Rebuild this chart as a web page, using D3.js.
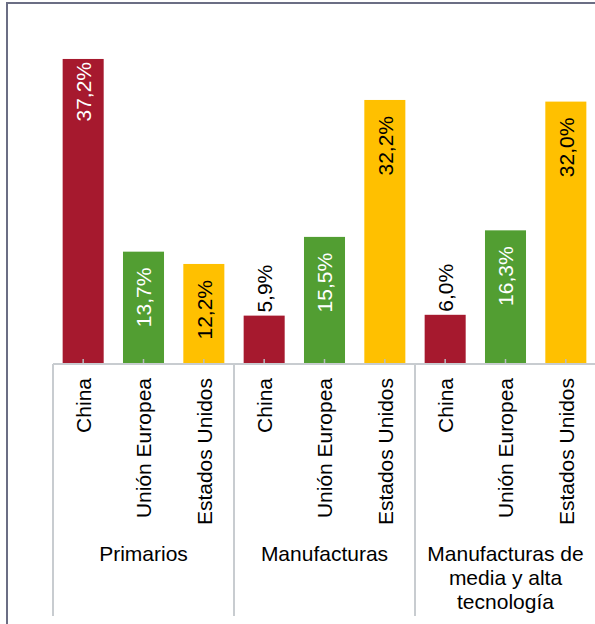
<!DOCTYPE html>
<html>
<head>
<meta charset="utf-8">
<script src="https://cdn.jsdelivr.net/npm/d3@7"></script>
<style>
  body { margin: 0; background: #fff; }
  text { font-family: "Liberation Sans", Arial, sans-serif; }
</style>
</head>
<body>
<div id="chart"></div>
<script>
// data
var groups = ["Primarios", "Manufacturas", "Manufacturas de media y alta tecnología"];
var groupLines = [["Primarios"], ["Manufacturas"], ["Manufacturas de", "media y alta", "tecnología"]];
var countries = ["China", "Unión Europea", "Estados Unidos"];
var china = [37.2, 5.9, 6.0];
var ue = [13.7, 15.5, 16.3];
var eeuu = [12.2, 32.2, 32.0];

var colors = ["#a6192e", "#529e32", "#ffc000"];
var labelColors = ["#fff", "#fff", "#000"];

var svgWidth = 595;
var svgHeight = 624;
var base = 364;

var svg = d3.select("#chart")
  .append("svg")
  .attr("width", svgWidth)
  .attr("height", svgHeight);

// outer frame
svg.append("rect")
  .attr("x", 7).attr("y", 3)
  .attr("width", 800).attr("height", 800)
  .attr("fill", "none")
  .attr("stroke", "#6b6e84")
  .attr("stroke-width", 2);

var rows = groups.map(function(g, i) {
  return { group: g, values: [china[i], ue[i], eeuu[i]] };
});

var x0 = d3.scaleBand().domain(groups).range([53, 596]);
var x1 = d3.scaleBand().domain(countries).range([0, x0.bandwidth()])
  .paddingInner(0.32).paddingOuter(0.16);
var y = d3.scaleLinear().domain([0, 40]).range([base, 36]);

var fmt = d3.formatLocale({ decimal: ",", thousands: ".", grouping: [3], currency: ["", "€"] }).format(".1f");
var maxVal = d3.max([].concat(china, ue, eeuu));

var groupG = svg.selectAll(".grp")
  .data(rows)
  .enter()
  .append("g")
  .attr("class", "grp")
  .attr("transform", function(d) { return "translate(" + x0(d.group) + ",0)"; });

// bars
groupG.selectAll("rect")
  .data(function(d) { return d.values.map(function(v, i) { return { country: countries[i], value: v, i: i }; }); })
  .enter()
  .append("rect")
  .attr("x", function(d) { return x1(d.country); })
  .attr("y", function(d) { return y(d.value); })
  .attr("width", x1.bandwidth())
  .attr("height", function(d) { return base - y(d.value); })
  .attr("fill", function(d) { return colors[d.i]; });

// axis line
svg.append("line")
  .attr("x1", 53).attr("x2", svgWidth)
  .attr("y1", base).attr("y2", base)
  .attr("stroke", "#c8ccd0")
  .attr("stroke-width", 2);

// country axis per group
groupG.each(function() {
  var ax = d3.select(this).append("g")
    .attr("transform", "translate(0," + base + ")")
    .call(d3.axisBottom(x1).tickSizeInner(-5).tickSizeOuter(0));
  ax.select(".domain").remove();
  ax.selectAll(".tick line").attr("stroke", "#b9bcc0").attr("stroke-width", 1.5);
  ax.selectAll(".tick text")
    .attr("transform", "rotate(-90)")
    .attr("x", -14)
    .attr("y", 0)
    .attr("dy", "0.38em")
    .attr("text-anchor", "end")
    .attr("fill", "#000")
    .style("font-size", "21px")
    .style("font-family", "'Liberation Sans', Arial, sans-serif");
});

// value labels
groupG.selectAll(".val")
  .data(function(d) { return d.values.map(function(v, i) { return { country: countries[i], value: v, i: i }; }); })
  .enter()
  .append("text")
  .attr("class", "val")
  .attr("transform", function(d) {
    return "translate(" + (x1(d.country) + x1.bandwidth() / 2) + "," + y(d.value) + ") rotate(-90)";
  })
  .attr("x", function(d) {
    if (d.value < 10) return 3;
    return d.value === maxVal ? -3 : -16;
  })
  .attr("dy", "0.38em")
  .attr("text-anchor", function(d) { return d.value < 10 ? "start" : "end"; })
  .attr("fill", function(d) { return d.value < 10 ? "#000" : labelColors[d.i]; })
  .style("font-size", "21px")
  .text(function(d) { return fmt(d.value) + "%"; });

// group separators
svg.selectAll(".sep")
  .data(groups)
  .enter()
  .append("line")
  .attr("class", "sep")
  .attr("x1", function(d) { return x0(d); })
  .attr("x2", function(d) { return x0(d); })
  .attr("y1", base).attr("y2", 616)
  .attr("stroke", "#c8ccd0")
  .attr("stroke-width", 2);

// group labels
var gl = svg.selectAll(".glab")
  .data(groups)
  .enter()
  .append("text")
  .attr("class", "glab")
  .attr("text-anchor", "middle")
  .attr("fill", "#000")
  .style("font-size", "21px");

gl.selectAll("tspan")
  .data(function(d, i) { return groupLines[i].map(function(l) { return { g: d, line: l }; }); })
  .enter()
  .append("tspan")
  .attr("x", function(d) { return x0(d.g) + x0.bandwidth() / 2; })
  .attr("y", function(d, j) { return 561 + j * 24; })
  .text(function(d) { return d.line; });
</script>
</body>
</html>
